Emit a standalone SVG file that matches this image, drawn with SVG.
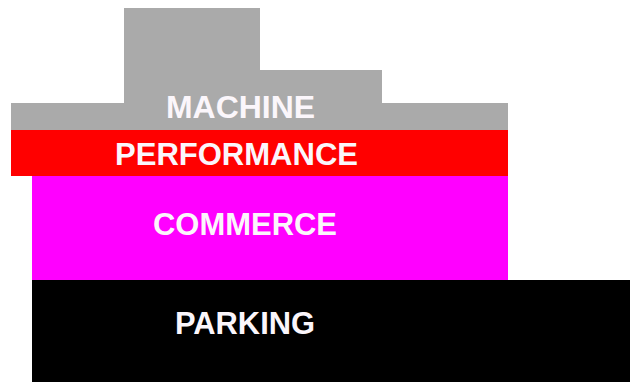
<svg xmlns="http://www.w3.org/2000/svg" width="630" height="382" viewBox="0 0 630 382">
<style>
.lbl{font-family:"Liberation Sans",Arial,sans-serif;font-weight:bold;font-size:31px;fill:#fbf6fb;}
</style>
<rect width="630" height="382" fill="#ffffff"/>
<g id="machine">
<path d="M124,8 H260 V70 H382 V103 H508 V130 H11 V103 H124 Z" fill="#aaaaaa"/>
<text class="lbl" x="166" y="118" textLength="149" lengthAdjust="spacingAndGlyphs">MACHINE</text>
</g>
<g id="performance">
<rect x="11" y="130" width="497" height="46" fill="#ff0000"/>
<text class="lbl" x="115" y="165" textLength="243" lengthAdjust="spacingAndGlyphs">PERFORMANCE</text>
</g>
<g id="commerce">
<rect x="32" y="176" width="476" height="104" fill="#ff00ff"/>
<text class="lbl" x="153" y="235" textLength="184" lengthAdjust="spacingAndGlyphs">COMMERCE</text>
</g>
<g id="parking">
<rect x="32" y="280" width="598" height="102" fill="#000000"/>
<text class="lbl" x="175" y="334" textLength="140" lengthAdjust="spacingAndGlyphs">PARKING</text>
</g>
<g id="connectors"/>
</svg>
